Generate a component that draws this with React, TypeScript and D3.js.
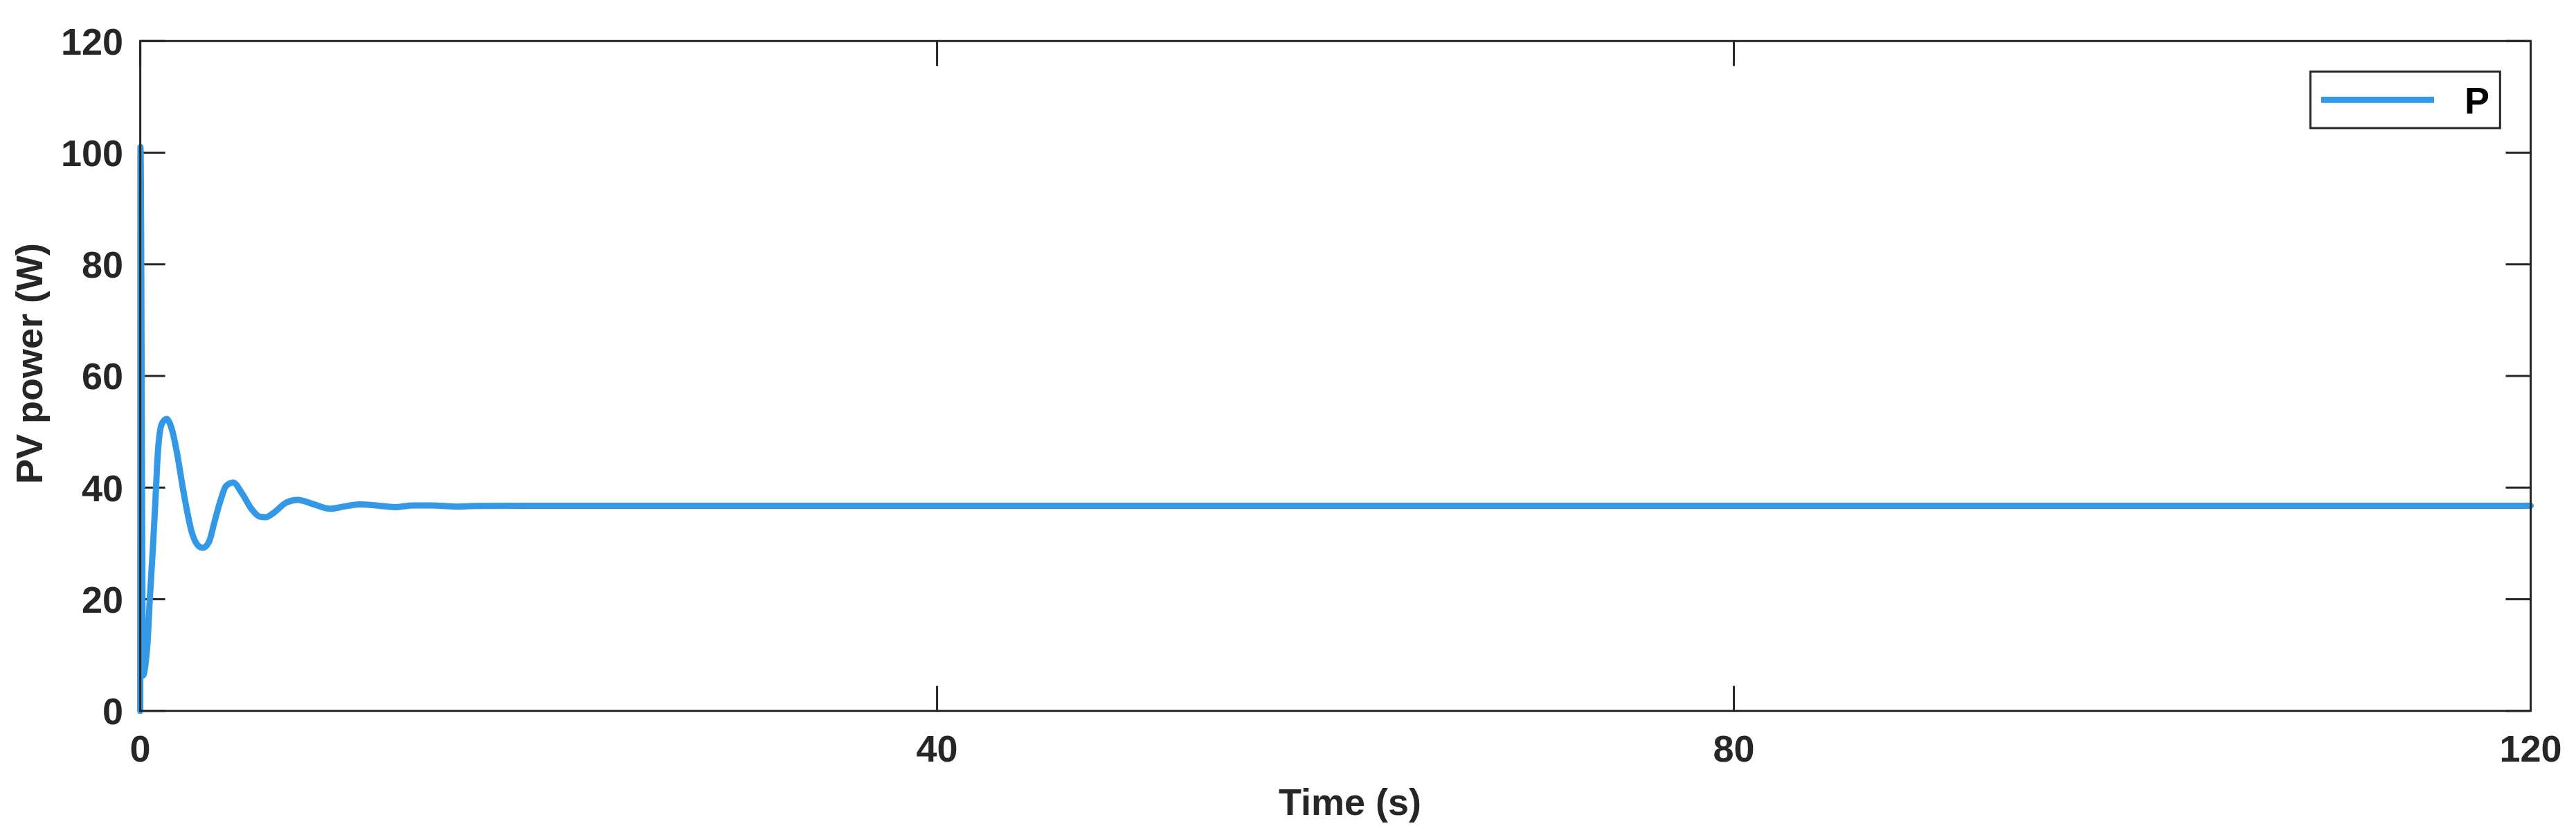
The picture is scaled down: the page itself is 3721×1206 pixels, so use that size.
import React from "react";
import * as d3 from "d3";

// ---- data ----
const timeS: number[] = [
  0, 0.01, 0.14, 0.26, 0.37, 0.49, 0.63, 0.755, 0.87, 1.07, 1.32, 1.59, 1.88, 2.11, 2.34,
  2.57, 2.86, 3.13, 3.44, 3.73, 4.02, 4.31, 4.66, 5.12, 5.58, 5.99, 6.3, 6.74, 7.32, 7.9,
  8.71, 9.52, 10.22, 11.03, 11.84, 12.77, 13.7, 14.6, 15.8, 16.9, 20, 30, 40, 60, 80, 100, 120,
];
const powerW: number[] = [
  0, 101, 6.3, 8.3, 12.5, 20.7, 28.9, 37.2, 45.5, 51.3, 52.3, 50.4, 45.5, 40.5, 36.0,
  32.2, 29.8, 29.2, 30.2, 33.9, 37.6, 40.3, 40.9, 38.9, 36.2, 34.8, 34.7, 35.6, 37.3, 37.8,
  37.0, 36.2, 36.6, 37.0, 36.8, 36.5, 36.8, 36.8, 36.6, 36.7, 36.75, 36.75, 36.75, 36.75, 36.75, 36.75, 36.75,
];
const xTicks: number[] = [0, 40, 80, 120];
const yTicks: number[] = [0, 20, 40, 60, 80, 100, 120];
const seriesName = "P";
const xLabel = "Time (s)";
const yLabel = "PV power (W)";

// ---- layout ----
const W = 3721;
const H = 1206;
const L = 202.6;
const R = 3655.5;
const T = 59.3;
const B = 1026.7;
const AX = "#262626";
const BLUE = "#3399E6";
const FONT = "'Liberation Sans', Arial, Helvetica, sans-serif";
const FS = 54;
const TICK = 36;

export default function App() {
  const x = d3.scaleLinear().domain([0, 120]).range([L, R]);
  const y = d3.scaleLinear().domain([0, 120]).range([B, T]);
  const pts = timeS.map((t, i) => [t, powerW[i]] as [number, number]);
  const line = d3
    .line<[number, number]>()
    .x((d) => x(d[0]))
    .y((d) => y(d[1]))
    .curve(d3.curveMonotoneX);

  return (
    <div style={{ position: "fixed", left: 0, top: 0 }}>
      <svg width={W} height={H} viewBox={`0 0 ${W} ${H}`} style={{ display: "block", background: "#fff" }}>
        <rect x={0} y={0} width={W} height={H} fill="#fff" />
        {/* ticks */}
        <g stroke={AX} strokeWidth={3}>
          {yTicks.map((v) => (
            <g key={"yt" + v}>
              <line x1={L} x2={L + TICK} y1={y(v)} y2={y(v)} />
              <line x1={R} x2={R - TICK} y1={y(v)} y2={y(v)} />
            </g>
          ))}
          {xTicks.map((v) => (
            <g key={"xt" + v}>
              <line x1={x(v)} x2={x(v)} y1={B} y2={B - TICK} />
              <line x1={x(v)} x2={x(v)} y1={T} y2={T + TICK} />
            </g>
          ))}
        </g>
        {/* data line */}
        <path
          d={line(pts) || ""}
          fill="none"
          stroke={BLUE}
          strokeWidth={9}
          strokeLinejoin="round"
          strokeLinecap="round"
        />
        {/* axes box */}
        <rect x={L} y={T} width={R - L} height={B - T} fill="none" stroke={AX} strokeWidth={3} />
        {/* tick labels */}
        <g fontFamily={FONT} fontSize={FS} fontWeight="bold" fill={AX}>
          {yTicks.map((v) => (
            <text key={"yl" + v} x={178} y={y(v)} dy="0.36em" textAnchor="end">
              {v}
            </text>
          ))}
          {xTicks.map((v) => (
            <text key={"xl" + v} x={x(v)} y={1100} textAnchor="middle">
              {v}
            </text>
          ))}
          <text x={1950} y={1177} textAnchor="middle">
            {xLabel}
          </text>
          <text transform={`translate(61, 525) rotate(-90)`} textAnchor="middle">
            {yLabel}
          </text>
        </g>
        {/* legend */}
        <rect x={3337.3} y={103.3} width={274} height={81.7} fill="#fff" stroke={AX} strokeWidth={3} />
        <line x1={3353} x2={3516} y1={144.3} y2={144.3} stroke={BLUE} strokeWidth={9} />
        <text x={3560} y={164} fontFamily={FONT} fontSize={FS} fontWeight="bold" fill="#000">
          {seriesName}
        </text>
      </svg>
    </div>
  );
}
